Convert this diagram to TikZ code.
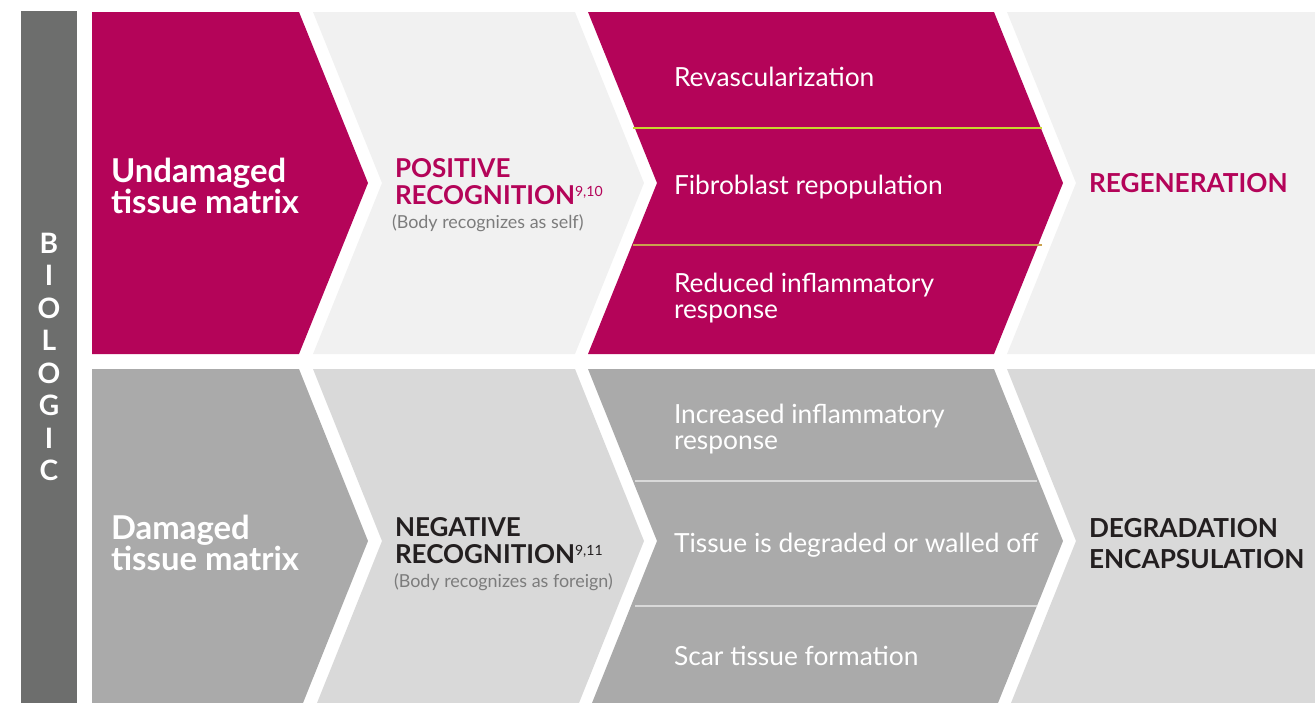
\documentclass[tikz,border=0pt]{standalone}
\usepackage{fontspec}
\setmainfont{Lato}
\usetikzlibrary{positioning}

\definecolor{berry}{HTML}{B40459}
\definecolor{paleband}{HTML}{F1F1F1}
\definecolor{darkband}{HTML}{AAAAAA}
\definecolor{midband}{HTML}{D9D9D9}
\definecolor{sidebar}{HTML}{6D6E6D}
\definecolor{ink}{HTML}{231F20}
\definecolor{notegrey}{HTML}{7C7C7C}
\definecolor{limeline}{HTML}{C8D62E}
\definecolor{oliveline}{HTML}{C9A24E}

\tikzset{x=0.02cm, y=-0.02cm, % one unit is one pixel, y runs down
         every node/.style={inner sep=0pt, outer sep=0pt},
         lead/.style={ % first column titles
           anchor=base west, align=left, text=white,
           font=\bfseries\fontsize{18.7}{17.6}\selectfont},
         recog/.style={ % second column titles
           anchor=base west, align=left,
           font=\bfseries\fontsize{14.8}{15.1}\selectfont},
         note/.style={anchor=base west, text=notegrey,
           font=\fontsize{10.2}{11}\selectfont},
         item/.style={ % steps inside the third column
           anchor=base west, align=left, text=white,
           font=\fontsize{15}{14.4}\selectfont},
         outcome/.style={anchor=base west, align=left,
           font=\bfseries\fontsize{14.9}{17.6}\selectfont}}

% reference numbers after a title
\newcommand{\refnum}[1]{\raisebox{4pt}{\mdseries\fontsize{8}{8}\selectfont #1}}

\begin{document}
\begin{tikzpicture}
\useasboundingbox (0,0) rectangle (1315,703);
\clip (0,0) rectangle (1315,703);

% side bar
\fill[sidebar] (21,11) rectangle (77,703);

% upper row of chevrons
\fill[berry] (92,12) -- (299,12) -- (368,183) -- (299,354) -- (92,354) -- cycle;
\fill[paleband] (313,12) -- (575,12) -- (644,183) -- (575,354) -- (313,354) -- (382,183) -- cycle;
\fill[berry] (588,12) -- (994,12) -- (1063,183) -- (994,354) -- (588,354) -- (657,183) -- cycle;
\fill[paleband] (1007,12) -- (1315,12) -- (1315,354) -- (1007,354) -- (1076,183) -- cycle;
\draw[limeline, line width=0.6pt] (633,128) -- (1042,128);
\draw[oliveline, line width=0.9pt] (633,245) -- (1042,245);

% lower row of chevrons
\fill[darkband] (92,369) -- (299,369) -- (368,541) -- (299,713) -- (92,713) -- cycle;
\fill[midband] (313,369) -- (575,369) -- (644,541) -- (575,713) -- (313,713) -- (382,541) -- cycle;
\fill[darkband] (588,369) -- (994,369) -- (1063,541) -- (994,713) -- (588,713) -- (657,541) -- cycle;
\fill[midband] (1007,369) -- (1315,369) -- (1315,713) -- (1007,713) -- (1076,541) -- cycle;
\draw[midband, line width=0.6pt] (635,481) -- (1037,481);
\draw[midband, line width=0.6pt] (635,606) -- (1037,606);

\node[align=center, text=white, font=\bfseries\fontsize{16}{18.5}\selectfont]
  (biologic) at (49,357) {B\\I\\O\\L\\O\\G\\I\\C};

% upper row text (base of a two-line node sits on its last line)
\node[lead] (undamaged) at (111,213) {Undamaged\\tissue matrix};
\node[recog, text=berry] (positive) at (395,204) {POSITIVE\\RECOGNITION\refnum{9,10}};
\node[note] (selfnote) at (392,228) {(Body recognizes as self)};
\node[item] (revasc) at (674,86) {Revascularization};
\node[item] (fibro) at (674,194) {Fibroblast repopulation};
\node[item] (reduced) at (674,318) {Reduced inflammatory\\response};
\node[outcome, text=berry] (regen) at (1089,192) {REGENERATION};

% lower row text
\node[lead] (damaged) at (111,570) {Damaged\\tissue matrix};
\node[recog, text=ink] (negative) at (395,563) {NEGATIVE\\RECOGNITION\refnum{9,11}};
\node[note] (foreignnote) at (394,587) {(Body recognizes as foreign)};
\node[item] (increased) at (674,449) {Increased inflammatory\\response};
\node[item] (walled) at (674,552) {Tissue is degraded or walled off};
\node[item] (scar) at (674,665) {Scar tissue formation};
\node[outcome, text=ink] (degrade) at (1089,568) {DEGRADATION\\ENCAPSULATION};
\end{tikzpicture}
\end{document}
